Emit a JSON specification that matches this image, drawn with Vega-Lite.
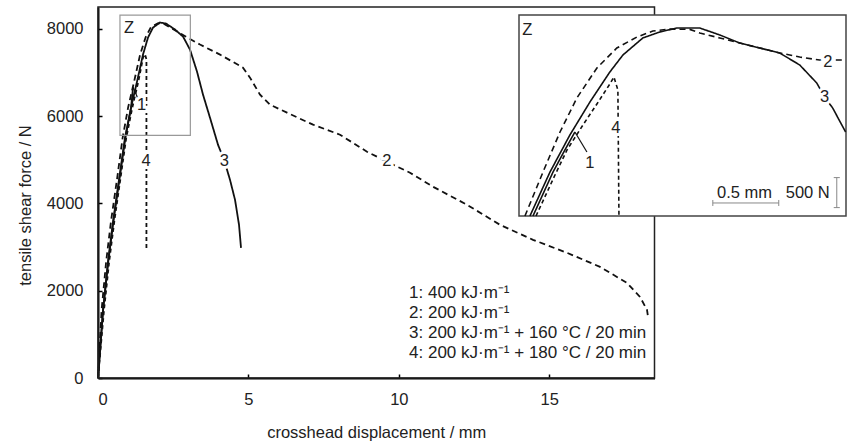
{
  "$schema": "https://vega.github.io/schema/vega-lite/v6.json",
  "width": 749,
  "height": 371,
  "autosize": "none",
  "padding": {"left": 98, "top": 7, "right": 0, "bottom": 64},
  "background": "white",
  "config": {"view": {"stroke": null}, "font": "Liberation Sans"},
  "datasets": {
    "main": [
      {"s":"1","o":0,"x":0,"y":0},{"s":"1","o":1,"x":0.17,"y":1560},{"s":"1","o":2,"x":0.34,"y":2661},{"s":"1","o":3,"x":0.51,"y":3579},{"s":"1","o":4,"x":0.71,"y":4542},{"s":"1","o":5,"x":0.91,"y":5506},{"s":"1","o":6,"x":1.10,"y":6194},{"s":"1","o":7,"x":1.165,"y":6660},
      {"s":"2","o":0,"x":0,"y":0},{"s":"2","o":1,"x":0.12,"y":1560},{"s":"2","o":2,"x":0.27,"y":2661},{"s":"2","o":3,"x":0.43,"y":3579},{"s":"2","o":4,"x":0.63,"y":4542},{"s":"2","o":5,"x":0.82,"y":5506},{"s":"2","o":6,"x":1.0,"y":6194},{"s":"2","o":7,"x":1.2,"y":6790},{"s":"2","o":8,"x":1.4,"y":7410},{"s":"2","o":9,"x":1.58,"y":7800},{"s":"2","o":10,"x":1.76,"y":8040},{"s":"2","o":11,"x":2.0,"y":8130},{"s":"2","o":12,"x":2.2,"y":8110},{"s":"2","o":13,"x":2.5,"y":7990},{"s":"2","o":14,"x":2.9,"y":7830},{"s":"2","o":15,"x":3.391,"y":7639},{"s":"2","o":16,"x":4.056,"y":7410},{"s":"2","o":17,"x":4.82,"y":7111},{"s":"2","o":18,"x":5.053,"y":6882},{"s":"2","o":19,"x":5.386,"y":6492},{"s":"2","o":20,"x":5.718,"y":6263},{"s":"2","o":21,"x":6.283,"y":6079},{"s":"2","o":22,"x":7.148,"y":5804},{"s":"2","o":23,"x":8.045,"y":5574},{"s":"2","o":24,"x":8.943,"y":5184},{"s":"2","o":25,"x":9.608,"y":4955},{"s":"2","o":26,"x":10.372,"y":4703},{"s":"2","o":27,"x":11.137,"y":4382},{"s":"2","o":28,"x":12.267,"y":3969},{"s":"2","o":29,"x":13.364,"y":3510},{"s":"2","o":30,"x":14.461,"y":3166},{"s":"2","o":31,"x":15.592,"y":2868},{"s":"2","o":32,"x":16.689,"y":2546},{"s":"2","o":33,"x":17.586,"y":2179},{"s":"2","o":34,"x":18.019,"y":1858},{"s":"2","o":35,"x":18.251,"y":1560},{"s":"2","o":36,"x":18.285,"y":1399},
      {"s":"3","o":0,"x":0,"y":0},{"s":"3","o":1,"x":0.166,"y":1560},{"s":"3","o":2,"x":0.332,"y":2661},{"s":"3","o":3,"x":0.499,"y":3579},{"s":"3","o":4,"x":0.698,"y":4542},{"s":"3","o":5,"x":0.898,"y":5506},{"s":"3","o":6,"x":1.097,"y":6194},{"s":"3","o":7,"x":1.297,"y":6790},{"s":"3","o":8,"x":1.496,"y":7410},{"s":"3","o":9,"x":1.662,"y":7800},{"s":"3","o":10,"x":1.828,"y":8029},{"s":"3","o":11,"x":2.061,"y":8144},{"s":"3","o":12,"x":2.261,"y":8121},{"s":"3","o":13,"x":2.56,"y":7983},{"s":"3","o":14,"x":2.826,"y":7823},{"s":"3","o":15,"x":3.059,"y":7524},{"s":"3","o":16,"x":3.291,"y":7020},{"s":"3","o":17,"x":3.491,"y":6492},{"s":"3","o":18,"x":3.723,"y":5964},{"s":"3","o":19,"x":3.989,"y":5345},{"s":"3","o":20,"x":4.189,"y":5001},{"s":"3","o":21,"x":4.388,"y":4542},{"s":"3","o":22,"x":4.555,"y":4083},{"s":"3","o":23,"x":4.688,"y":3510},{"s":"3","o":24,"x":4.754,"y":2982},
      {"s":"4","o":0,"x":0,"y":0},{"s":"4","o":1,"x":0.2,"y":1560},{"s":"4","o":2,"x":0.37,"y":2661},{"s":"4","o":3,"x":0.54,"y":3579},{"s":"4","o":4,"x":0.74,"y":4542},{"s":"4","o":5,"x":0.94,"y":5506},{"s":"4","o":6,"x":1.14,"y":6194},{"s":"4","o":7,"x":1.34,"y":6790},{"s":"4","o":8,"x":1.5,"y":7350},{"s":"4","o":9,"x":1.56,"y":7420},{"s":"4","o":10,"x":1.61,"y":7300},{"s":"4","o":11,"x":1.61,"y":2930}
    ],
    "inset": [
      {"s":"1","o":0,"x":0.956,"y":4980},{"s":"1","o":1,"x":1.108,"y":5713},{"s":"1","o":2,"x":1.198,"y":6080},{"s":"1","o":3,"x":1.274,"y":6380},
      {"s":"2","o":0,"x":0.895,"y":4980},{"s":"2","o":1,"x":1.032,"y":5713},{"s":"2","o":2,"x":1.161,"y":6380},{"s":"2","o":3,"x":1.289,"y":6947},{"s":"2","o":4,"x":1.441,"y":7447},{"s":"2","o":5,"x":1.592,"y":7780},{"s":"2","o":6,"x":1.744,"y":7963},{"s":"2","o":7,"x":1.865,"y":8063},{"s":"2","o":8,"x":1.994,"y":8097},{"s":"2","o":9,"x":2.145,"y":8090},{"s":"2","o":10,"x":2.221,"y":8030},{"s":"2","o":11,"x":2.373,"y":7947},{"s":"2","o":12,"x":2.524,"y":7863},{"s":"2","o":13,"x":2.676,"y":7780},{"s":"2","o":14,"x":2.827,"y":7697},{"s":"2","o":15,"x":2.979,"y":7630},{"s":"2","o":16,"x":3.13,"y":7580},{"s":"2","o":17,"x":3.327,"y":7580},
      {"s":"3","o":0,"x":0.933,"y":4980},{"s":"3","o":1,"x":1.085,"y":5713},{"s":"3","o":2,"x":1.236,"y":6330},{"s":"3","o":3,"x":1.388,"y":6880},{"s":"3","o":4,"x":1.539,"y":7380},{"s":"3","o":5,"x":1.638,"y":7663},{"s":"3","o":6,"x":1.789,"y":7947},{"s":"3","o":7,"x":1.918,"y":8047},{"s":"3","o":8,"x":2.047,"y":8113},{"s":"3","o":9,"x":2.221,"y":8113},{"s":"3","o":10,"x":2.373,"y":7997},{"s":"3","o":11,"x":2.524,"y":7863},{"s":"3","o":12,"x":2.676,"y":7780},{"s":"3","o":13,"x":2.827,"y":7697},{"s":"3","o":14,"x":2.979,"y":7497},{"s":"3","o":15,"x":3.108,"y":7197},{"s":"3","o":16,"x":3.168,"y":6963},{"s":"3","o":17,"x":3.229,"y":6780},{"s":"3","o":18,"x":3.327,"y":6380},
      {"s":"4","o":0,"x":0.979,"y":4980},{"s":"4","o":1,"x":1.123,"y":5663},{"s":"4","o":2,"x":1.214,"y":6080},{"s":"4","o":3,"x":1.335,"y":6497},{"s":"4","o":4,"x":1.441,"y":6847},{"s":"4","o":5,"x":1.539,"y":7180},{"s":"4","o":6,"x":1.57,"y":7297},{"s":"4","o":7,"x":1.6,"y":7080},{"s":"4","o":8,"x":1.608,"y":4980}
    ]
  },
  "layer": [
    {
      "layer": [
        {
          "data": {"name": "main"},
          "mark": {"type": "line", "color": "#111", "strokeWidth": 1.8},
          "encoding": {
            "x": {"field": "x", "type": "quantitative", "scale": {"domain": [0, 18.5], "range": [0, 556.5], "nice": false, "zero": false},
              "axis": {"title": "crosshead displacement / mm", "values": [0, 5, 10, 15], "format": "d", "grid": false, "domainColor": "#000", "domainWidth": 2, "tickColor": "#000", "tickWidth": 1.5, "tickSize": -4, "labelPadding": 17, "labelFontSize": 16.5, "labelColor": "#222", "labelFont": "Liberation Sans", "titleFont": "Liberation Sans", "titleFontSize": 16.5, "titleFontWeight": "normal", "titleColor": "#222", "titleY": 54, "titleBaseline": "middle"}},
            "y": {"field": "y", "type": "quantitative", "scale": {"domain": [0, 8500], "nice": false},
              "axis": {"title": "tensile shear force / N", "values": [0, 2000, 4000, 6000, 8000], "format": "d", "grid": false, "domainColor": "#000", "domainWidth": 2, "tickColor": "#000", "tickWidth": 1.5, "tickSize": -4, "labelPadding": 19, "labelFontSize": 16.5, "labelColor": "#222", "labelFont": "Liberation Sans", "titleFont": "Liberation Sans", "titleFontSize": 16.5, "titleFontWeight": "normal", "titleColor": "#222", "titleX": -73, "titleY": 198, "titleBaseline": "middle"}},
            "detail": {"field": "s", "type": "nominal"},
            "order": {"field": "o", "type": "quantitative"},
            "strokeDash": {"field": "s", "type": "nominal", "scale": {"domain": ["1", "2", "3", "4"], "range": [[1, 0], [6, 4], [1, 0], [4, 3]]}, "legend": null}
          }
        },
        {
          "data": {"values": [{"x": 0, "x2": 18.5, "y": 0, "y2": 8500, "c": "frame"}]},
          "mark": {"type": "rect", "filled": false, "stroke": "#222", "strokeWidth": 1.5},
          "encoding": {
            "x": {"field": "x", "type": "quantitative", "scale": {"domain": [0, 18.5], "range": [0, 556.5], "nice": false, "zero": false}, "title": "crosshead displacement / mm"},
            "x2": {"field": "x2"},
            "y": {"field": "y", "type": "quantitative", "scale": {"domain": [0, 8500], "nice": false}, "title": "tensile shear force / N"},
            "y2": {"field": "y2"}
          }
        },
        {
          "data": {"values": [{"x": 0.73, "x2": 3.07, "y": 5559, "y2": 8312}]},
          "mark": {"type": "rect", "filled": false, "stroke": "#999", "strokeWidth": 1.2},
          "encoding": {
            "x": {"field": "x", "type": "quantitative", "scale": {"domain": [0, 18.5], "range": [0, 556.5], "nice": false, "zero": false}, "title": "crosshead displacement / mm"},
            "x2": {"field": "x2"},
            "y": {"field": "y", "type": "quantitative", "scale": {"domain": [0, 8500], "nice": false}, "title": "tensile shear force / N"},
            "y2": {"field": "y2"}
          }
        },
        {
          "data": {"values": [{"x": 1.165, "x2": 1.33, "y": 6660, "y2": 6400}]},
          "mark": {"type": "rule", "color": "#111", "strokeWidth": 1.2},
          "encoding": {
            "x": {"field": "x", "type": "quantitative", "scale": {"domain": [0, 18.5], "range": [0, 556.5], "nice": false, "zero": false}, "title": "crosshead displacement / mm"},
            "x2": {"field": "x2"},
            "y": {"field": "y", "type": "quantitative", "scale": {"domain": [0, 8500], "nice": false}, "title": "tensile shear force / N"},
            "y2": {"field": "y2"}
          }
        },
        {
          "data": {"values": [{"t": "4", "x": 1.6, "y": 4962}, {"t": "3", "x": 4.2, "y": 4962}, {"t": "2", "x": 9.6, "y": 4962}, {"t": "1", "x": 1.45, "y": 6260}]},
          "mark": {"type": "text", "fontSize": 16.5, "color": "white", "stroke": "white", "strokeWidth": 6, "align": "center", "baseline": "middle"},
          "encoding": {
            "x": {"field": "x", "type": "quantitative", "scale": {"domain": [0, 18.5], "range": [0, 556.5], "nice": false, "zero": false}, "title": "crosshead displacement / mm"},
            "y": {"field": "y", "type": "quantitative", "scale": {"domain": [0, 8500], "nice": false}, "title": "tensile shear force / N"},
            "text": {"field": "t"}
          }
        },
        {
          "data": {"values": [{"t": "4", "x": 1.6, "y": 4962}, {"t": "3", "x": 4.2, "y": 4962}, {"t": "2", "x": 9.6, "y": 4962}, {"t": "1", "x": 1.45, "y": 6260}, {"t": "Z", "x": 1.03, "y": 8029}]},
          "mark": {"type": "text", "fontSize": 16.5, "color": "#222", "align": "center", "baseline": "middle"},
          "encoding": {
            "x": {"field": "x", "type": "quantitative", "scale": {"domain": [0, 18.5], "range": [0, 556.5], "nice": false, "zero": false}, "title": "crosshead displacement / mm"},
            "y": {"field": "y", "type": "quantitative", "scale": {"domain": [0, 8500], "nice": false}, "title": "tensile shear force / N"},
            "text": {"field": "t"}
          }
        },
        {
          "data": {"values": [
            {"t": "1: 400 kJ·m⁻¹", "x": 10.34, "y": 1950},
            {"t": "2: 200 kJ·m⁻¹", "x": 10.34, "y": 1491},
            {"t": "3: 200 kJ·m⁻¹ + 160 °C / 20 min", "x": 10.34, "y": 1032},
            {"t": "4: 200 kJ·m⁻¹ + 180 °C / 20 min", "x": 10.34, "y": 574}
          ]},
          "mark": {"type": "text", "fontSize": 17, "color": "#222", "align": "left", "baseline": "middle"},
          "encoding": {
            "x": {"field": "x", "type": "quantitative", "scale": {"domain": [0, 18.5], "range": [0, 556.5], "nice": false, "zero": false}, "title": "crosshead displacement / mm"},
            "y": {"field": "y", "type": "quantitative", "scale": {"domain": [0, 8500], "nice": false}, "title": "tensile shear force / N"},
            "text": {"field": "t"}
          }
        }
      ]
    },
    {
      "layer": [
        {
          "data": {"values": [{"x": 0.85, "x2": 3.33, "y": 4980, "y2": 8330}]},
          "mark": {"type": "rect", "fill": "white", "stroke": "#444", "strokeWidth": 1.5},
          "encoding": {
            "x": {"field": "x", "type": "quantitative", "scale": {"domain": [0.85, 3.33], "range": [421, 748], "nice": false, "zero": false}, "axis": null},
            "x2": {"field": "x2"},
            "y": {"field": "y", "type": "quantitative", "scale": {"domain": [4980, 8330], "range": [209, 8], "nice": false, "zero": false}, "axis": null},
            "y2": {"field": "y2"}
          }
        },
        {
          "data": {"name": "inset"},
          "mark": {"type": "line", "color": "#111", "strokeWidth": 1.6},
          "encoding": {
            "x": {"field": "x", "type": "quantitative", "scale": {"domain": [0.85, 3.33], "range": [421, 748], "nice": false, "zero": false}, "axis": null},
            "y": {"field": "y", "type": "quantitative", "scale": {"domain": [4980, 8330], "range": [209, 8], "nice": false, "zero": false}, "axis": null},
            "detail": {"field": "s", "type": "nominal"},
            "order": {"field": "o", "type": "quantitative"},
            "strokeDash": {"field": "s", "type": "nominal", "scale": {"domain": ["1", "2", "3", "4"], "range": [[1, 0], [6, 4], [1, 0], [4, 3]]}, "legend": null}
          }
        },
        {
          "data": {"values": [
            {"x": 1.274, "x2": 1.365, "y": 6380, "y2": 6047, "c": "#111", "w": 1.2},
            {"x": 2.32, "x2": 2.82, "y": 5197, "y2": 5197, "c": "#888", "w": 1},
            {"x": 2.32, "x2": 2.32, "y": 5147, "y2": 5247, "c": "#888", "w": 1},
            {"x": 2.82, "x2": 2.82, "y": 5147, "y2": 5247, "c": "#888", "w": 1},
            {"x": 3.26, "x2": 3.26, "y": 5120, "y2": 5620, "c": "#888", "w": 1},
            {"x": 3.237, "x2": 3.283, "y": 5120, "y2": 5120, "c": "#888", "w": 1},
            {"x": 3.237, "x2": 3.283, "y": 5620, "y2": 5620, "c": "#888", "w": 1}
          ]},
          "mark": {"type": "rule"},
          "encoding": {
            "x": {"field": "x", "type": "quantitative", "scale": {"domain": [0.85, 3.33], "range": [421, 748], "nice": false, "zero": false}, "axis": null},
            "x2": {"field": "x2"},
            "y": {"field": "y", "type": "quantitative", "scale": {"domain": [4980, 8330], "range": [209, 8], "nice": false, "zero": false}, "axis": null},
            "y2": {"field": "y2"},
            "color": {"field": "c", "type": "nominal", "scale": null},
            "strokeWidth": {"field": "w", "type": "quantitative", "scale": null}
          }
        },
        {
          "data": {"values": [{"t": "1", "x": 1.388, "y": 5863}, {"t": "4", "x": 1.585, "y": 6441}, {"t": "3", "x": 3.168, "y": 6968}, {"t": "2", "x": 3.193, "y": 7552}]},
          "mark": {"type": "text", "fontSize": 16.5, "color": "white", "stroke": "white", "strokeWidth": 6, "align": "center", "baseline": "middle"},
          "encoding": {
            "x": {"field": "x", "type": "quantitative", "scale": {"domain": [0.85, 3.33], "range": [421, 748], "nice": false, "zero": false}, "axis": null},
            "y": {"field": "y", "type": "quantitative", "scale": {"domain": [4980, 8330], "range": [209, 8], "nice": false, "zero": false}, "axis": null},
            "text": {"field": "t"}
          }
        },
        {
          "data": {"values": [{"t": "1", "x": 1.388, "y": 5863}, {"t": "4", "x": 1.585, "y": 6441}, {"t": "3", "x": 3.168, "y": 6968}, {"t": "2", "x": 3.193, "y": 7552}, {"t": "0.5 mm", "x": 2.56, "y": 5363}, {"t": "500 N", "x": 3.04, "y": 5363}]},
          "mark": {"type": "text", "fontSize": 16.5, "color": "#222", "align": "center", "baseline": "middle"},
          "encoding": {
            "x": {"field": "x", "type": "quantitative", "scale": {"domain": [0.85, 3.33], "range": [421, 748], "nice": false, "zero": false}, "axis": null},
            "y": {"field": "y", "type": "quantitative", "scale": {"domain": [4980, 8330], "range": [209, 8], "nice": false, "zero": false}, "axis": null},
            "text": {"field": "t"}
          }
        },
        {
          "data": {"values": [{"t": "Z", "x": 0.875, "y": 8080}]},
          "mark": {"type": "text", "fontSize": 16.5, "color": "#222", "align": "left", "baseline": "middle"},
          "encoding": {
            "x": {"field": "x", "type": "quantitative", "scale": {"domain": [0.85, 3.33], "range": [421, 748], "nice": false, "zero": false}, "axis": null},
            "y": {"field": "y", "type": "quantitative", "scale": {"domain": [4980, 8330], "range": [209, 8], "nice": false, "zero": false}, "axis": null},
            "text": {"field": "t"}
          }
        }
      ]
    }
  ],
  "resolve": {"scale": {"x": "independent", "y": "independent"}}
}
